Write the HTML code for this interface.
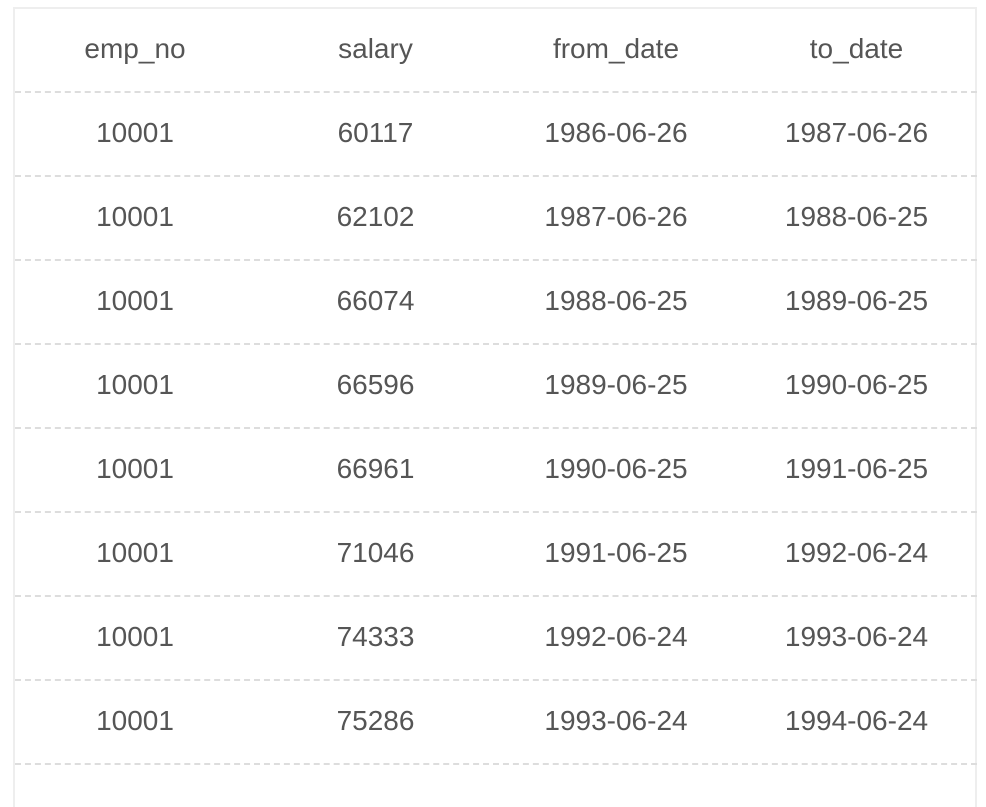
<!DOCTYPE html>
<html><head><meta charset="utf-8"><style>
html,body{margin:0;padding:0;background:#fff;width:986px;height:778px;overflow:hidden}
#tbl{position:absolute;left:13px;top:7px;width:964px;height:800px;border:2px solid #eeeeee;border-bottom:none;box-sizing:border-box}
.row{position:absolute;left:0;width:962px;height:84px}
.cell{position:absolute;top:-2px;width:240px;height:84px;line-height:84px;text-align:center;font-family:"Liberation Sans",sans-serif;font-size:28px;color:#555}
.line{position:absolute;left:0;width:962px;height:0;border-top:2px dashed #dddddd}
</style></head><body>
<div id="tbl"></div>
<script>
const headers=["emp_no","salary","from_date","to_date"];
const empNos=["10001","10001","10001","10001","10001","10001","10001","10001"];
const salaries=["60117","62102","66074","66596","66961","71046","74333","75286"];
const fromDates=["1986-06-26","1987-06-26","1988-06-25","1989-06-25","1990-06-25","1991-06-25","1992-06-24","1993-06-24"];
const toDates=["1987-06-26","1988-06-25","1989-06-25","1990-06-25","1991-06-25","1992-06-24","1993-06-24","1994-06-24"];
const tbl=document.getElementById('tbl');
function makeRow(vals,i,isHeader){
  const r=document.createElement('div');
  r.className='row';
  r.style.top=(0+i*84)+'px';
  
  
  vals.forEach((v,j)=>{
    const c=document.createElement('div');
    c.className='cell';
    c.style.left=(j*240.5)+'px';
    c.textContent=v;
    
    
    r.appendChild(c);
  });
  tbl.appendChild(r);
  const l=document.createElement('div');
  l.className='line';
  l.style.top=(82+i*84)+'px';
  
  
  tbl.appendChild(l);
}
makeRow(headers,0,true);
for(let i=0;i<empNos.length;i++){makeRow([empNos[i],salaries[i],fromDates[i],toDates[i]],i+1,false);}
</script>
</body></html>
